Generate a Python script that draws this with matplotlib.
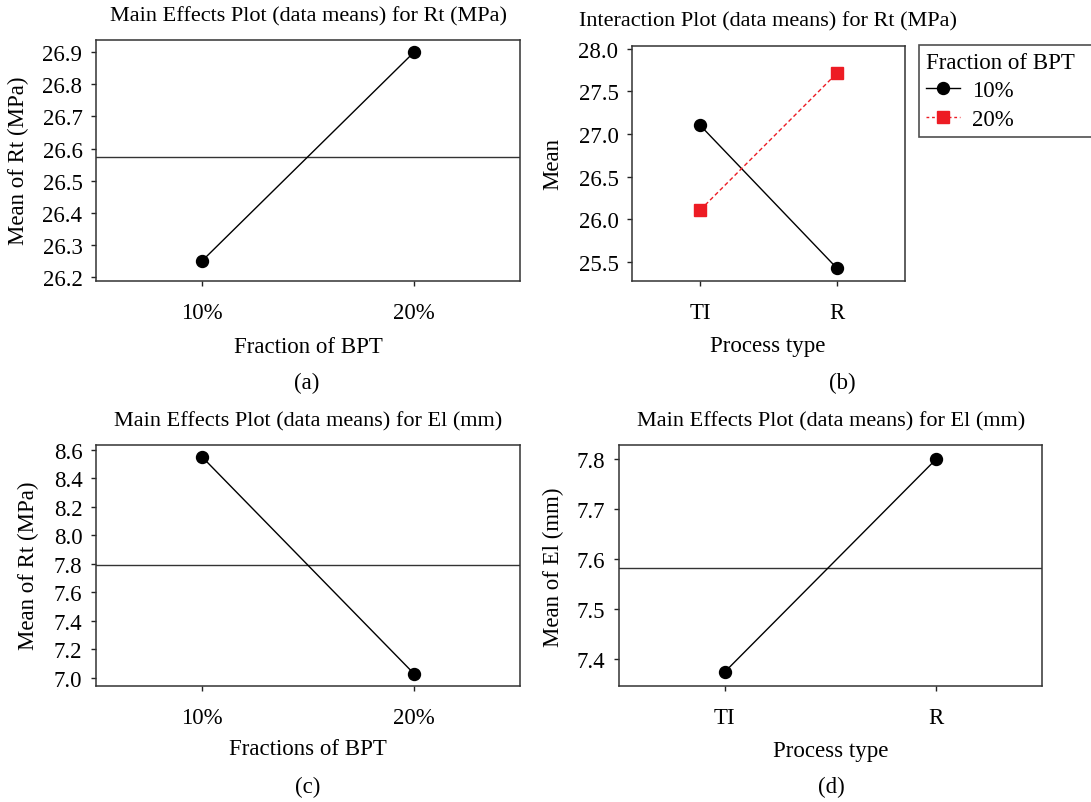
import matplotlib
matplotlib.use("Agg")
import matplotlib.pyplot as plt
from matplotlib.lines import Line2D

plt.rcParams['font.family'] = ['Liberation Serif', 'DejaVu Serif']

# ---------------- data ----------------
bpt_levels = ["10%", "20%"]
process_levels = ["TI", "R"]

rt_by_bpt = [26.25, 26.90]
rt_grand_mean = 26.575

rt_inter_10 = [27.10, 25.43]
rt_inter_20 = [26.11, 27.71]

el_by_bpt = [8.55, 7.03]
el_grand_mean_c = 7.79

el_by_process = [7.375, 7.80]
el_grand_mean_d = 7.582

yticks_a = [26.2, 26.3, 26.4, 26.5, 26.6, 26.7, 26.8, 26.9]
yticks_b = [25.5, 26.0, 26.5, 27.0, 27.5, 28.0]
yticks_c = [7.0, 7.2, 7.4, 7.6, 7.8, 8.0, 8.2, 8.4, 8.6]
yticks_d = [7.4, 7.5, 7.6, 7.7, 7.8]

# ---------------- layout ----------------
W, H = 1091, 803
fig = plt.figure(figsize=(W / 100, H / 100), dpi=100)

FS = 16.5
TFS = 16.0
RED = "#ED1C24"


def rect(l, r, t, b):
    return [l / W, 1 - b / H, (r - l) / W, (b - t) / H]


def style(ax, ylim, yticks, xlabels):
    ax.set_xlim(-0.5, 1.5)
    ax.set_ylim(*ylim)
    ax.set_yticks(yticks)
    ax.set_yticklabels([f"{v:.1f}" for v in yticks])
    ax.set_xticks(range(len(xlabels)))
    ax.set_xticklabels(xlabels)
    ax.tick_params(axis="both", direction="out", length=3.8, width=1.0,
                   labelsize=FS, colors="#222222", labelcolor="black")
    ax.tick_params(axis="x", pad=11)
    ax.tick_params(axis="y", pad=6)
    for s in ax.spines.values():
        s.set_linewidth(1.1)
        s.set_color("#333333")


def ftext(x, y, s, size=FS, **kw):
    fig.text(x / W, 1 - y / H, s, fontsize=size, ha="center", va="center", **kw)


# (a)
ax_a = fig.add_axes(rect(96, 520, 41, 282))
ax_a.axhline(rt_grand_mean, color="#333333", lw=1.0, zorder=1)
ax_a.plot(range(2), rt_by_bpt, color="black", lw=1.0, marker="o", ms=8.6, zorder=3)
style(ax_a, (26.1876, 26.938), yticks_a, bpt_levels)
ftext(308, 17, "Main Effects Plot (data means) for Rt (MPa)", size=TFS)
ftext(18, 161, "Mean of Rt (MPa)", rotation=90)
ftext(308, 348, "Fraction of BPT")
ftext(307, 383, "(a)")

# (b)
ax_b = fig.add_axes(rect(632, 905, 47, 282))
ax_b.plot(range(2), rt_inter_10, color="black", lw=1.0, marker="o", ms=8.6, zorder=3)
ax_b.plot(range(2), rt_inter_20, color=RED, lw=1.0, ls=(0, (3, 2)),
          marker="s", ms=8.6, zorder=3)
style(ax_b, (25.278, 28.03), yticks_b, process_levels)
ftext(768, 22, "Interaction Plot (data means) for Rt (MPa)", size=TFS)
ftext(553, 164, "Mean", rotation=90)
ftext(768, 347, "Process type")
ftext(842, 383, "(b)")

handles = [
    Line2D([0], [0], color="black", lw=1.0, marker="o", ms=8.6),
    Line2D([0], [0], color=RED, lw=1.0, ls=(0, (2, 2)), marker="s", ms=8.6),
]
x0 = 919 / W
y1 = 1 - 46 / H
leg = fig.legend(handles, bpt_levels, title="Fraction of BPT",
                 loc="upper left",
                 bbox_to_anchor=(x0, y1 - 93 / H, 1130 / W - x0, 93 / H),
                 mode="expand", borderaxespad=0, fontsize=FS, title_fontsize=FS,
                 frameon=True, fancybox=False, edgecolor="#222222",
                 handlelength=1.5, handletextpad=0.5, labelspacing=0.32,
                 borderpad=0.3, alignment="left")
leg.get_frame().set_linewidth(1.2)

# (c)
ax_c = fig.add_axes(rect(96, 520, 446, 687))
ax_c.axhline(el_grand_mean_c, color="#333333", lw=1.0, zorder=1)
ax_c.plot(range(2), el_by_bpt, color="black", lw=1.0, marker="o", ms=8.6, zorder=3)
style(ax_c, (6.944, 8.633), yticks_c, bpt_levels)
ftext(308, 422, "Main Effects Plot (data means) for El (mm)", size=TFS)
ftext(28, 566, "Mean of Rt (MPa)", rotation=90)
ftext(308, 750, "Fractions of BPT")
ftext(308, 787, "(c)")

# (d)
ax_d = fig.add_axes(rect(619, 1042, 446, 687))
ax_d.axhline(el_grand_mean_d, color="#333333", lw=1.0, zorder=1)
ax_d.plot(range(2), el_by_process, color="black", lw=1.0, marker="o", ms=8.6, zorder=3)
style(ax_d, (7.347, 7.828), yticks_d, process_levels)
ftext(831, 422, "Main Effects Plot (data means) for El (mm)", size=TFS)
ftext(553, 567, "Mean of El (mm)", rotation=90)
ftext(831, 752, "Process type")
ftext(831, 787, "(d)")

fig.savefig("out.png", dpi=100, facecolor="white")
